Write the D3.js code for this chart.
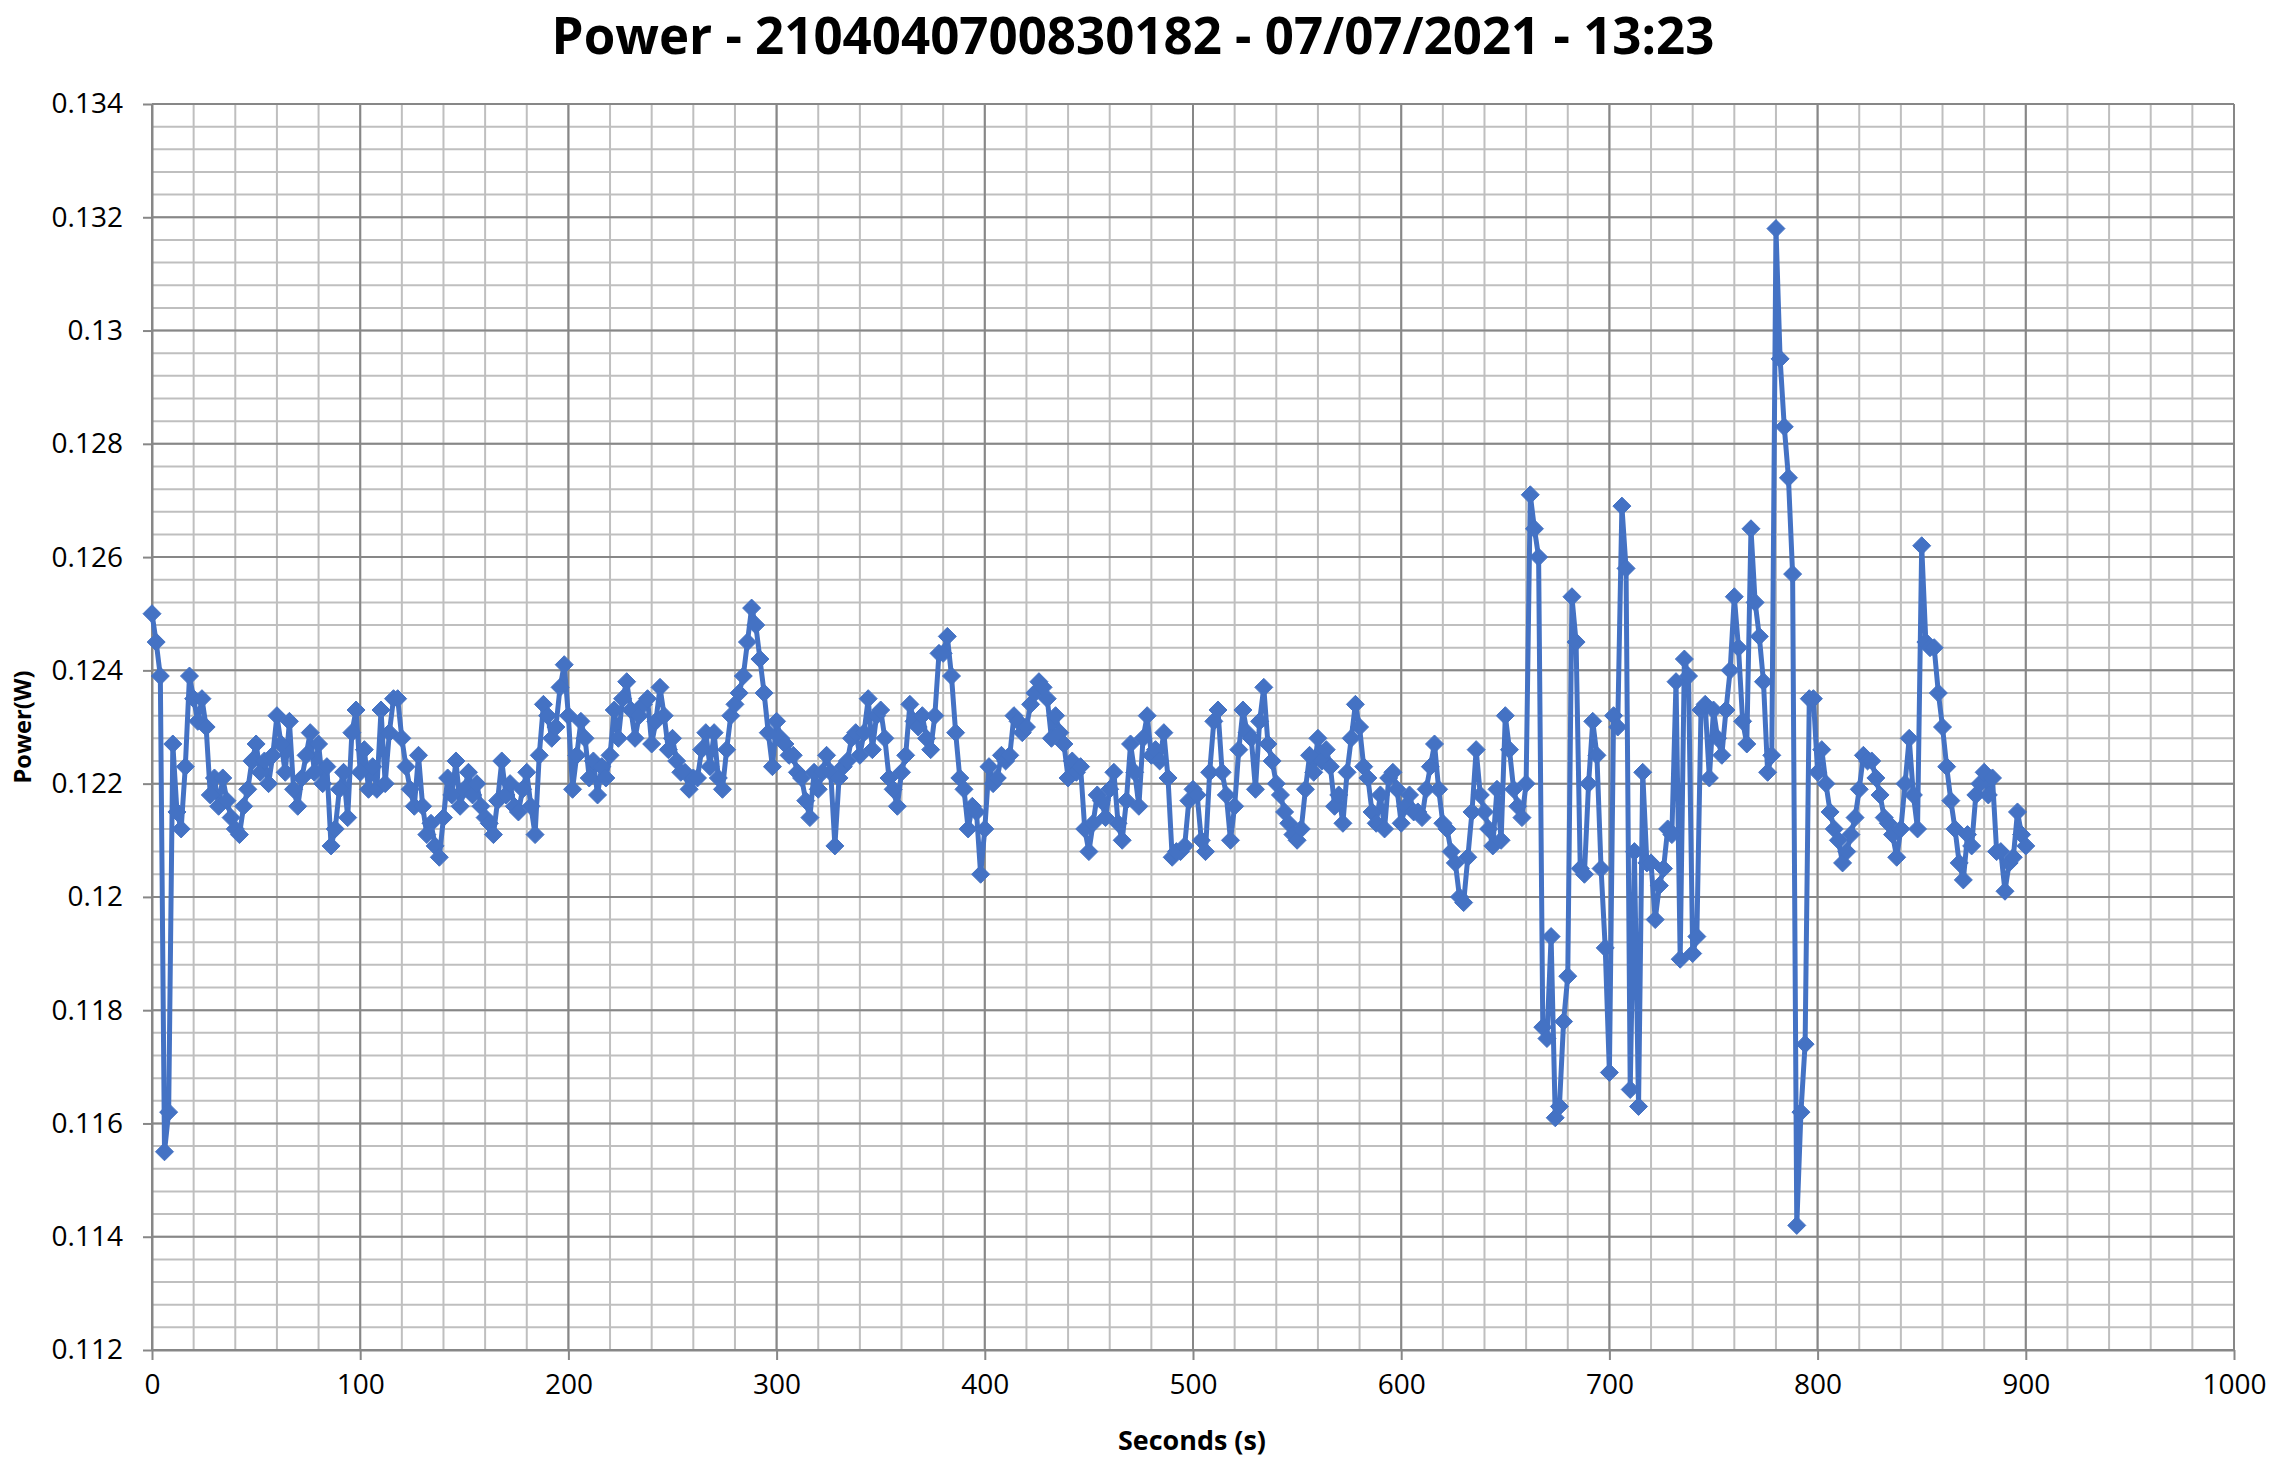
<!DOCTYPE html>
<html>
<head>
<meta charset="utf-8">
<script src="https://cdnjs.cloudflare.com/ajax/libs/d3/7.8.5/d3.min.js"></script>
<style>
  body { margin: 0; background: #ffffff; }
  svg text { font-family: "Open Sans", "DejaVu Sans", sans-serif; }
</style>
</head>
<body>
<svg id="chart" width="2273" height="1463"></svg>
<script>
// ---------------- data ----------------
const chartTitle = "Power - 2104040700830182 - 07/07/2021 - 13:23";
const xAxisTitle = "Seconds (s)";
const yAxisTitle = "Power(W)";

const xTickValues = [0, 100, 200, 300, 400, 500, 600, 700, 800, 900, 1000];
const xTickLabels = ["0", "100", "200", "300", "400", "500", "600", "700", "800", "900", "1000"];
const yTickValues = [0.112, 0.114, 0.116, 0.118, 0.120, 0.122, 0.124, 0.126, 0.128, 0.130, 0.132, 0.134];
const yTickLabels = ["0.112", "0.114", "0.116", "0.118", "0.12", "0.122", "0.124", "0.126", "0.128", "0.13", "0.132", "0.134"];

// sampling of the series (seconds)
const sampleStart = 0;
const sampleStep = 2;

// Power (W), one value every 2 s from 0 s to 900 s
const power = [
  0.1250,0.1245,0.1239,0.1155,0.1162,0.1227,0.1215,0.1212,0.1223,0.1239,
  0.1235,0.1231,0.1235,0.1230,0.1218,0.1221,0.1216,0.1221,0.1217,0.1214,
  0.1212,0.1211,0.1216,0.1219,0.1224,0.1227,0.1222,0.1224,0.1220,0.1225,
  0.1232,0.1227,0.1222,0.1231,0.1219,0.1216,0.1221,0.1225,0.1229,0.1222,
  0.1227,0.1220,0.1223,0.1209,0.1212,0.1219,0.1222,0.1214,0.1229,0.1233,
  0.1222,0.1226,0.1219,0.1223,0.1219,0.1233,0.1220,0.1229,0.1235,0.1235,
  0.1228,0.1223,0.1219,0.1216,0.1225,0.1216,0.1211,0.1213,0.1209,0.1207,
  0.1214,0.1221,0.1218,0.1224,0.1216,0.1219,0.1222,0.1218,0.1220,0.1216,
  0.1214,0.1213,0.1211,0.1217,0.1224,0.1218,0.1220,0.1216,0.1215,0.1219,
  0.1222,0.1216,0.1211,0.1225,0.1234,0.1232,0.1228,0.1230,0.1237,0.1241,
  0.1232,0.1219,0.1225,0.1231,0.1228,0.1221,0.1224,0.1218,0.1223,0.1221,
  0.1225,0.1233,0.1228,0.1235,0.1238,0.1233,0.1228,0.1232,0.1234,0.1235,
  0.1227,0.1231,0.1237,0.1232,0.1226,0.1228,0.1224,0.1222,0.1222,0.1219,
  0.1221,0.1221,0.1226,0.1229,0.1223,0.1229,0.1221,0.1219,0.1226,0.1232,
  0.1234,0.1236,0.1239,0.1245,0.1251,0.1248,0.1242,0.1236,0.1229,0.1223,
  0.1231,0.1228,0.1227,0.1225,0.1225,0.1222,0.1221,0.1217,0.1214,0.1222,
  0.1219,0.1222,0.1225,0.1222,0.1209,0.1221,0.1223,0.1224,0.1228,0.1229,
  0.1225,0.1229,0.1235,0.1226,0.1232,0.1233,0.1228,0.1221,0.1219,0.1216,
  0.1222,0.1225,0.1234,0.1231,0.1230,0.1232,0.1228,0.1226,0.1232,0.1243,
  0.1243,0.1246,0.1239,0.1229,0.1221,0.1219,0.1212,0.1216,0.1215,0.1204,
  0.1212,0.1223,0.1220,0.1221,0.1225,0.1224,0.1225,0.1232,0.1231,0.1229,
  0.1230,0.1234,0.1236,0.1238,0.1237,0.1235,0.1228,0.1232,0.1229,0.1227,
  0.1221,0.1224,0.1222,0.1223,0.1212,0.1208,0.1213,0.1218,0.1217,0.1214,
  0.1219,0.1222,0.1213,0.1210,0.1217,0.1227,0.1222,0.1216,0.1228,0.1232,
  0.1225,0.1226,0.1224,0.1229,0.1221,0.1207,0.1208,0.1208,0.1209,0.1217,
  0.1219,0.1218,0.1210,0.1208,0.1222,0.1231,0.1233,0.1222,0.1218,0.1210,
  0.1216,0.1226,0.1233,0.1229,0.1228,0.1219,0.1231,0.1237,0.1227,0.1224,
  0.1220,0.1218,0.1215,0.1213,0.1211,0.1210,0.1212,0.1219,0.1225,0.1222,
  0.1228,0.1224,0.1226,0.1223,0.1216,0.1218,0.1213,0.1222,0.1228,0.1234,
  0.1230,0.1223,0.1221,0.1215,0.1213,0.1218,0.1212,0.1221,0.1222,0.1219,
  0.1213,0.1216,0.1218,0.1215,0.1215,0.1214,0.1219,0.1223,0.1227,0.1219,
  0.1213,0.1212,0.1208,0.1206,0.1200,0.1199,0.1207,0.1215,0.1226,0.1218,
  0.1215,0.1212,0.1209,0.1219,0.1210,0.1232,0.1226,0.1219,0.1216,0.1214,
  0.1220,0.1271,0.1265,0.1260,0.1177,0.1175,0.1193,0.1161,0.1163,0.1178,
  0.1186,0.1253,0.1245,0.1205,0.1204,0.1220,0.1231,0.1225,0.1205,0.1191,
  0.1169,0.1232,0.1230,0.1269,0.1258,0.1166,0.1208,0.1163,0.1222,0.1206,
  0.1206,0.1196,0.1202,0.1205,0.1212,0.1211,0.1238,0.1189,0.1242,0.1239,
  0.1190,0.1193,0.1233,0.1234,0.1221,0.1233,0.1228,0.1225,0.1233,0.1240,
  0.1253,0.1244,0.1231,0.1227,0.1265,0.1252,0.1246,0.1238,0.1222,0.1225,
  0.1318,0.1295,0.1283,0.1274,0.1257,0.1142,0.1162,0.1174,0.1235,0.1235,
  0.1222,0.1226,0.1220,0.1215,0.1212,0.1210,0.1206,0.1208,0.1211,0.1214,
  0.1219,0.1225,0.1224,0.1224,0.1221,0.1218,0.1214,0.1213,0.1211,0.1207,
  0.1212,0.1220,0.1228,0.1218,0.1212,0.1262,0.1245,0.1244,0.1244,0.1236,
  0.1230,0.1223,0.1217,0.1212,0.1206,0.1203,0.1211,0.1209,0.1218,0.1220,
  0.1222,0.1218,0.1221,0.1208,0.1208,0.1201,0.1206,0.1207,0.1215,0.1211,
  0.1209
];

// ---------------- chart ----------------
const W = 2273, H = 1463;
const plot = { left: 152, right: 2234, top: 104, bottom: 1350 };
const lineColor = "#4472C4";
const minorGridColor = "#bfbfbf";
const majorGridColor = "#878787";

const svg = d3.select("#chart");
svg.append("rect").attr("width", W).attr("height", H).attr("fill", "#ffffff");

const x = d3.scaleLinear()
  .domain([xTickValues[0], xTickValues[xTickValues.length - 1]])
  .range([plot.left, plot.right]);
const y = d3.scaleLinear()
  .domain([yTickValues[0], yTickValues[yTickValues.length - 1]])
  .range([plot.bottom, plot.top]);

// minor gridlines: every 20 s and every 0.0004 W
const xMinor = d3.range(0, 51).map(i => i * 20);
const yMinor = d3.range(0, 56).map(i => +(0.112 + i * 0.0004).toFixed(4));

const grid = svg.append("g");
grid.selectAll("line.vmin").data(xMinor).join("line")
  .attr("x1", d => x(d)).attr("x2", d => x(d))
  .attr("y1", plot.top).attr("y2", plot.bottom)
  .attr("stroke", minorGridColor).attr("stroke-width", 2);
grid.selectAll("line.hmin").data(yMinor).join("line")
  .attr("x1", plot.left).attr("x2", plot.right)
  .attr("y1", d => y(d)).attr("y2", d => y(d))
  .attr("stroke", minorGridColor).attr("stroke-width", 2);
grid.selectAll("line.vmaj").data(xTickValues).join("line")
  .attr("x1", d => x(d)).attr("x2", d => x(d))
  .attr("y1", plot.top).attr("y2", plot.bottom)
  .attr("stroke", majorGridColor).attr("stroke-width", 2);
grid.selectAll("line.hmaj").data(yTickValues).join("line")
  .attr("x1", plot.left).attr("x2", plot.right)
  .attr("y1", d => y(d)).attr("y2", d => y(d))
  .attr("stroke", majorGridColor).attr("stroke-width", 2);

// axes
const xAxis = d3.axisBottom(x)
  .tickValues(xTickValues)
  .tickFormat((d, i) => xTickLabels[i])
  .tickSizeInner(10).tickSizeOuter(0).tickPadding(14);
const yAxis = d3.axisLeft(y)
  .tickValues(yTickValues)
  .tickFormat((d, i) => yTickLabels[i])
  .tickSizeInner(9).tickSizeOuter(0).tickPadding(20);

const gx = svg.append("g").attr("transform", `translate(0,${plot.bottom})`).call(xAxis);
const gy = svg.append("g").attr("transform", `translate(${plot.left},0)`).call(yAxis);
[gx, gy].forEach(g => {
  g.select(".domain").attr("stroke", majorGridColor).attr("stroke-width", 2);
  g.selectAll(".tick line").attr("stroke", majorGridColor).attr("stroke-width", 2);
  g.selectAll(".tick text")
    .attr("fill", "#000")
    .style("font-family", '"Open Sans", sans-serif')
    .style("font-size", "28px");
});

// series
const series = power.map((v, i) => ({ s: sampleStart + i * sampleStep, v }));
const line = d3.line().x(d => x(d.s)).y(d => y(d.v));
svg.append("path")
  .datum(series)
  .attr("d", line)
  .attr("fill", "none")
  .attr("stroke", lineColor)
  .attr("stroke-width", 5)
  .attr("stroke-linejoin", "round");

const r = 9;
svg.append("g").selectAll("path").data(series).join("path")
  .attr("transform", d => `translate(${x(d.s)},${y(d.v)})`)
  .attr("d", `M0,${-r}L${r},0L0,${r}L${-r},0Z`)
  .attr("fill", lineColor)
  .attr("stroke", lineColor)
  .attr("stroke-width", 1);

// titles
function fitWidth(sel, target) {
  const w = sel.node().getComputedTextLength();
  const fs = parseFloat(sel.style("font-size"));
  sel.style("font-size", (fs * target / w) + "px");
}

const t = svg.append("text")
  .attr("x", 1133).attr("y", 54)
  .attr("text-anchor", "middle")
  .attr("font-weight", "bold")
  .style("font-size", "50px")
  .attr("fill", "#000")
  .text(chartTitle);
fitWidth(t, 1163);

const xt = svg.append("text")
  .attr("x", 1192).attr("y", 1450)
  .attr("text-anchor", "middle")
  .attr("font-weight", "bold")
  .style("font-size", "26px")
  .attr("fill", "#000")
  .text(xAxisTitle);
fitWidth(xt, 148);

const yt = svg.append("text")
  .attr("transform", "translate(31,727) rotate(-90)")
  .attr("text-anchor", "middle")
  .attr("font-weight", "bold")
  .style("font-size", "26px")
  .attr("fill", "#000")
  .text(yAxisTitle);
fitWidth(yt, 113);
</script>
</body>
</html>
